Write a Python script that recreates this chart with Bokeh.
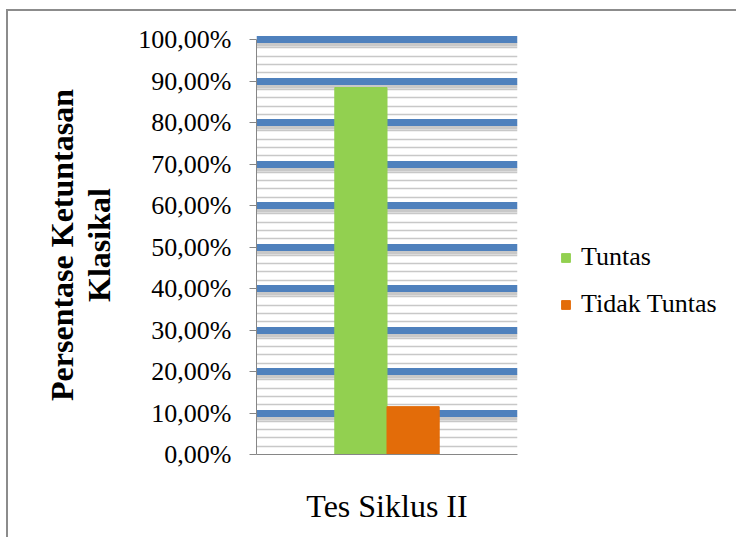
from bokeh.plotting import figure
from bokeh.models import (FactorRange, Range1d, FixedTicker, Legend, LegendItem,
                          ColumnDataSource)
from bokeh.transform import dodge
from bokeh.embed import file_html
from bokeh.resources import INLINE

# ---- data ----
categories = ["Tes Siklus II"]
series_names = ["Tuntas", "Tidak Tuntas"]
tuntas = [88.46]
tidak_tuntas = [11.54]
y_ticks = [0, 10, 20, 30, 40, 50, 60, 70, 80, 90, 100]
y_tick_labels = ["0,00%", "10,00%", "20,00%", "30,00%", "40,00%", "50,00%",
                 "60,00%", "70,00%", "80,00%", "90,00%", "100,00%"]
y_title = "Persentase Ketuntasan\nKlasikal"

colors = ["#92D050", "#E36C09"]
FONT = "Liberation Serif"

source = ColumnDataSource(dict(cat=categories, tuntas=tuntas, tidak=tidak_tuntas))

p = figure(x_range=FactorRange(*categories), y_range=Range1d(0, 101),
           frame_width=261, frame_height=419, output_backend="svg",
           toolbar_location=None,
           min_border_left=248, min_border_top=24, min_border_bottom=85,
           min_border_right=215)
p.styles = {"margin-left": "8px", "margin-top": "11px",
            "box-shadow": "-2px -2px 0 0 #8C8C8C"}
p.outline_line_color = None
p.background_fill_color = "white"

# grid: blue major lines (except at 0), gray minor lines
grid_major = [t for t in y_ticks if t > 0]
grid_minor = [t + m for t in y_ticks[:-1] for m in (2, 4, 6, 8)]
p.xgrid.visible = False
p.ygrid.ticker = FixedTicker(ticks=grid_major, minor_ticks=grid_minor)
p.ygrid.grid_line_color = "#4F81BD"
p.ygrid.grid_line_width = 7
p.ygrid.minor_grid_line_color = "#C8C8C8"
p.ygrid.minor_grid_line_width = 1.5

# shadow below the blue lines
shadow = p.hspan(y=[t - 1.25 for t in grid_major], line_color="#9A9A9A",
                 line_width=4, line_alpha=0.55, level="underlay")

r1 = p.vbar(x=dodge("cat", -0.1, range=p.x_range), top="tuntas", width=0.2,
            fill_color=colors[0], line_color=colors[0], source=source)
r2 = p.vbar(x=dodge("cat", 0.1, range=p.x_range), top="tidak", width=0.2,
            fill_color=colors[1], line_color=colors[1], source=source)

# y axis
p.yaxis.ticker = FixedTicker(ticks=y_ticks)
p.yaxis.bounds = (y_ticks[0], y_ticks[-1])
p.yaxis.major_label_overrides = {t: l for t, l in zip(y_ticks, y_tick_labels)}
p.yaxis.major_label_text_font = FONT
p.yaxis.major_label_text_font_size = "26px"
p.yaxis.major_label_text_color = "black"
p.yaxis.major_label_standoff = 18
p.yaxis.axis_line_color = "#868686"
p.yaxis.major_tick_line_color = "#868686"
p.yaxis.major_tick_out = 7
p.yaxis.major_tick_in = 0
p.yaxis.minor_tick_line_color = None
p.yaxis.axis_label = y_title
p.yaxis.axis_label_text_font = FONT
p.yaxis.axis_label_text_font_style = "bold"
p.yaxis.axis_label_text_font_size = "32px"
p.yaxis.axis_label_text_color = "black"
p.yaxis.axis_label_text_line_height = 1.05
p.yaxis.axis_label_standoff = 18

# x axis
p.xaxis.axis_line_color = "#868686"
p.xaxis.major_tick_line_color = None
p.xaxis.major_label_text_font = FONT
p.xaxis.major_label_text_font_size = "32px"
p.xaxis.major_label_text_color = "black"
p.xaxis.major_label_standoff = 27

legend = Legend(items=[LegendItem(label=series_names[0], renderers=[r1]),
                       LegendItem(label=series_names[1], renderers=[r2])],
                location=(43, 135), border_line_color=None,
                background_fill_alpha=0, glyph_width=11, glyph_height=11,
                label_text_font=FONT, label_text_font_size="26px",
                label_text_color="black",
                label_height=22, spacing=17, padding=0, margin=0,
                label_standoff=10)
p.add_layout(legend, "right")

open("out.html", "w").write(file_html(p, INLINE))
